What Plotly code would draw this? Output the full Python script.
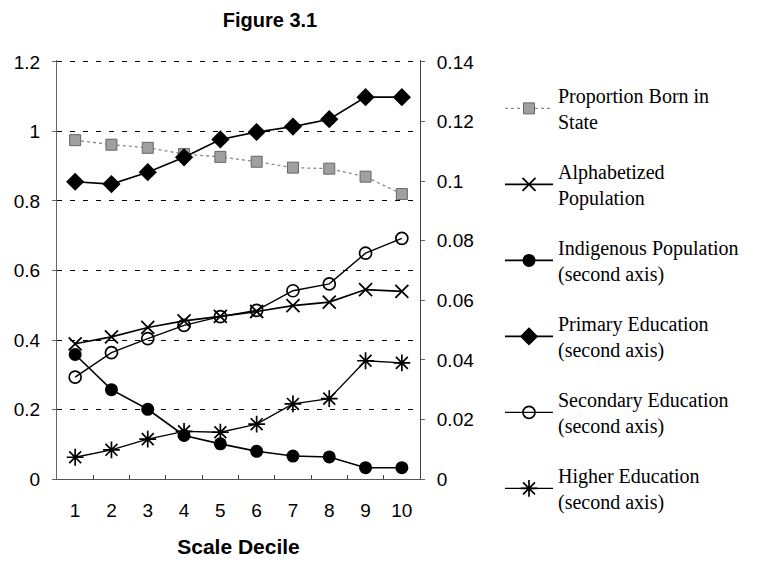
import plotly.graph_objects as go

deciles = [1, 2, 3, 4, 5, 6, 7, 8, 9, 10]
born_in_state = [0.975, 0.962, 0.953, 0.935, 0.927, 0.913, 0.896, 0.893, 0.870, 0.820]
alphabetized = [0.389, 0.409, 0.436, 0.455, 0.468, 0.482, 0.499, 0.509, 0.545, 0.540]
indigenous = [0.0418, 0.0300, 0.0234, 0.0146, 0.0118, 0.0093, 0.0077, 0.0074, 0.0038, 0.0038]
primary = [0.0998, 0.0990, 0.1030, 0.1080, 0.1140, 0.1165, 0.1183, 0.1208, 0.1282, 0.1282]
secondary = [0.0342, 0.0424, 0.0471, 0.0516, 0.0545, 0.0566, 0.0632, 0.0655, 0.0758, 0.0808]
higher = [0.0073, 0.0098, 0.0134, 0.0160, 0.0157, 0.0184, 0.0252, 0.0270, 0.0397, 0.0390]

left_ticks = [0, 0.2, 0.4, 0.6, 0.8, 1.0, 1.2]
left_labels = ["0", "0.2", "0.4", "0.6", "0.8", "1", "1.2"]
right_ticks = [0, 0.02, 0.04, 0.06, 0.08, 0.10, 0.12, 0.14]
right_labels = ["0", "0.02", "0.04", "0.06", "0.08", "0.1", "0.12", "0.14"]

W, H = 760, 566
L, R, T, B = 57, 340, 60, 84
plot_h = H - T - B          # 422 px; 1.2 sits 2 px below the top so its gridline shows
pad = plot_h / 420.0

fig = go.Figure()

fig.add_trace(go.Scatter(
    x=deciles, y=born_in_state, name="Proportion Born in<br>State",
    mode="lines+markers", yaxis="y",
    line=dict(color="#8a8a8a", width=1.3, dash="dot"),
    marker=dict(symbol="square", size=11, color="#a0a0a0",
                line=dict(color="#666666", width=1)),
    legendgroup="a"))
fig.add_trace(go.Scatter(
    x=deciles, y=alphabetized, name="Alphabetized<br>Population",
    mode="lines+markers", yaxis="y",
    line=dict(color="black", width=1.6),
    marker=dict(symbol="x-thin", size=13, color="black",
                line=dict(color="black", width=1.8)),
    legendgroup="b"))
fig.add_trace(go.Scatter(
    x=deciles, y=indigenous, name="Indigenous Population<br>(second axis)",
    mode="lines+markers", yaxis="y2",
    line=dict(color="black", width=1.6),
    marker=dict(symbol="circle", size=13, color="black"),
    legendgroup="c"))
fig.add_trace(go.Scatter(
    x=deciles, y=primary, name="Primary Education<br>(second axis)",
    mode="lines+markers", yaxis="y2",
    line=dict(color="black", width=1.6),
    marker=dict(symbol="diamond", size=14, color="black"),
    legendgroup="d"))
fig.add_trace(go.Scatter(
    x=deciles, y=secondary, name="Secondary Education<br>(second axis)",
    mode="lines+markers", yaxis="y2",
    line=dict(color="black", width=1.4),
    marker=dict(symbol="circle-open", size=12, color="black",
                line=dict(color="black", width=1.7)),
    legendgroup="e"))
fig.add_trace(go.Scatter(
    x=deciles, y=higher, name="Higher Education<br>(second axis)",
    mode="lines+markers", yaxis="y2",
    line=dict(color="black", width=1.3),
    marker=dict(symbol="asterisk-open", size=14, color="black",
                line=dict(color="black", width=1.7)),
    legendgroup="f"))

fig.update_layout(
    width=W, height=H,
    margin=dict(l=L, r=R, t=T, b=B),
    paper_bgcolor="white", plot_bgcolor="white",
    font=dict(family="Liberation Sans, Arial, sans-serif", size=19, color="black"),
    title=dict(text="<b>Figure 3.1</b>", x=270 / W, xanchor="center",
               y=1 - 20 / H, yanchor="middle",
               font=dict(size=20, family="Liberation Sans, Arial, sans-serif")),
    xaxis=dict(range=[0.5, 10.5], tickvals=deciles, ticktext=[str(d) for d in deciles],
               ticks="", showgrid=False, zeroline=False,
               showline=True, linecolor="#555", linewidth=1,
               minor=dict(tickvals=[1.5, 2.5, 3.5, 4.5, 5.5, 6.5, 7.5, 8.5, 9.5],
                          ticks="inside", ticklen=4, tickcolor="#444", showgrid=False),
               tickfont=dict(size=19), ticklabelstandoff=14,
               title=dict(text="<b>Scale Decile</b>", font=dict(size=21), standoff=19)),
    yaxis=dict(range=[0, 1.2 * pad], tickvals=left_ticks, ticktext=left_labels,
               showgrid=True, gridcolor="black", griddash="5px,8px", gridwidth=1,
               zeroline=False, showline=True, linecolor="#666", linewidth=1,
               ticks="outside", ticklen=4, tickcolor="#666",
               tickfont=dict(size=19), ticklabelstandoff=8),
    yaxis2=dict(range=[0, 0.14 * pad], tickvals=right_ticks, ticktext=right_labels,
                overlaying="y", side="right", showgrid=False, zeroline=False,
                showline=True, linecolor="#444", linewidth=1,
                ticks="outside", ticklen=4, tickcolor="#666",
                tickfont=dict(size=19), ticklabelstandoff=8),
    legend=dict(x=(500 - L) / (W - L - R), xanchor="left",
                y=1 - (76 - T) / plot_h, yanchor="top",
                font=dict(family="Liberation Serif, Times New Roman, serif", size=20),
                tracegroupgap=21, traceorder="grouped", maxheight=560,
                bgcolor="rgba(0,0,0,0)", itemwidth=48),
    showlegend=True,
)

fig.write_html("out.html")
